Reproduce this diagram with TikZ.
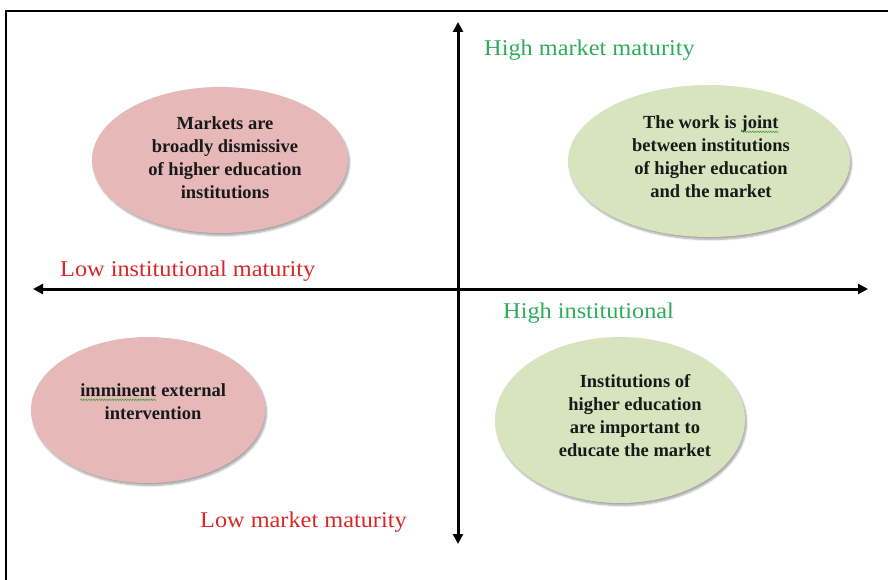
\documentclass[tikz,border=0pt]{standalone}
\usepackage{fontspec}
\setmainfont{Liberation Serif}
\newfontfamily\axisfont[FakeStretch=1.08]{Liberation Serif}
\usetikzlibrary{arrows.meta,shapes.geometric,shadows.blur,decorations.pathmorphing}

\definecolor{lowred}{RGB}{218,38,38}
\definecolor{highgreen}{RGB}{46,172,92}
\definecolor{pinkfill}{RGB}{230,185,184}
\definecolor{greenfill}{RGB}{215,228,189}
\definecolor{inktext}{RGB}{25,25,25}
\definecolor{spellgreen}{RGB}{70,160,70}

% wavy proofing underline under a word
\newcommand\spellmark[1]{\tikz[baseline=(sw.base)]{%
  \node[anchor=base, inner sep=0pt, outer sep=0pt] (sw) {#1};
  \draw[spellgreen, line width=0.6pt, decorate,
        decoration={snake, amplitude=0.7pt, segment length=2.6pt}]
    ([yshift=-3pt]sw.base west) -- ([yshift=-3pt]sw.base east);}}

\tikzset{
  quadrant/.style={ellipse, inner sep=0pt, draw=none,
    blur shadow={shadow xshift=1.5pt, shadow yshift=-2.5pt,
                 shadow opacity=35, shadow blur steps=6}},
  lowquad/.style={quadrant, fill=pinkfill},
  highquad/.style={quadrant, fill=greenfill},
  quadtext/.style={align=center, inner sep=0pt, text=inktext,
    font=\bfseries\fontsize{18.5}{23}\selectfont},
  axislabel/.style={anchor=base west, inner sep=0pt,
    font=\axisfont\fontsize{22.5}{27}\selectfont},
  axis/.style={line width=3pt,
    arrows={Triangle[length=10pt,width=10pt]-Triangle[length=10pt,width=10pt]}},
  frame/.style={line width=2pt}
}

\begin{document}
\begin{tikzpicture}[x=1pt,y=-1pt]
  \useasboundingbox (0,0) rectangle (888,580);

  % frame edges
  \coordinate (framebl) at (6,580);
  \coordinate (frametl) at (6,11);
  \coordinate (frametr) at (888,11);
  \draw[frame] (framebl) -- (frametl) -- (frametr);

  % quadrant ellipses
  \node[lowquad,  minimum width=256pt, minimum height=146pt] (tl) at (220,160) {};
  \node[highquad, minimum width=282pt, minimum height=152pt] (tr) at (709,161) {};
  \node[lowquad,  minimum width=234pt, minimum height=146pt] (bl) at (148,410) {};
  \node[highquad, minimum width=250pt, minimum height=166pt] (br) at (620,420) {};

  % quadrant texts
  \node[quadtext] (tltext) at (225,158)
    {Markets are\\broadly dismissive\\of higher education\\institutions};
  \node[quadtext] (trtext) at (711,157)
    {The work is \spellmark{joint}\\between institutions\\of higher education\\and the market};
  \node[quadtext] (bltext) at (153,402)
    {\spellmark{imminent} external\\intervention};
  \node[quadtext] (brtext) at (635,416)
    {Institutions of\\higher education\\are important to\\educate the market};

  % axes
  \coordinate (axtop)    at (458,22);
  \coordinate (axbottom) at (458,544);
  \coordinate (axleft)   at (33,289);
  \coordinate (axright)  at (868,289);
  \draw[axis] (axbottom) -- (axtop);
  \draw[axis] (axleft) -- (axright);

  % axis labels
  \node[axislabel, text=highgreen] (highmarket) at (484,56) {High market maturity};
  \node[axislabel, text=lowred]    (lowinst)    at (60,276) {Low institutional maturity};
  \node[axislabel, text=highgreen] (highinst)   at (503,318) {High institutional};
  \node[axislabel, text=lowred]    (lowmarket)  at (200,527) {Low market maturity};
\end{tikzpicture}
\end{document}
